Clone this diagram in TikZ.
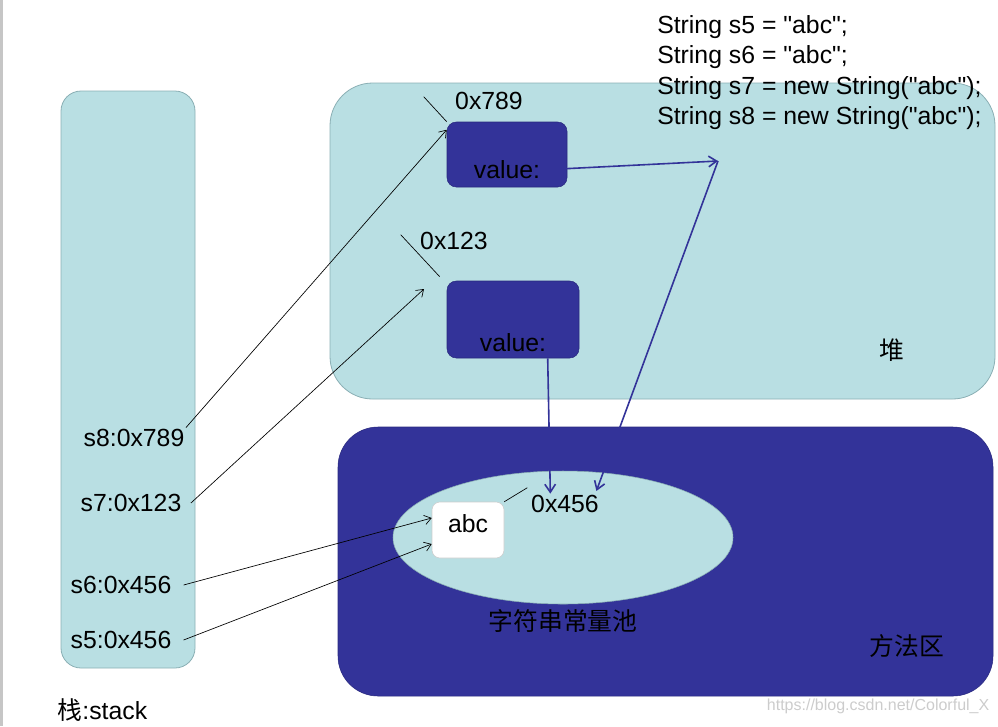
\documentclass[tikz,border=0pt]{standalone}
\usepackage{fontspec}
\setmainfont[Ligatures=TeXOff]{Liberation Sans}
\newfontfamily\cjk{Noto Sans CJK SC}
\RequirePackage{xcolor}
\usetikzlibrary{calc}
\usetikzlibrary{positioning}
\usetikzlibrary{arrows.meta}
\usetikzlibrary{shapes.geometric}

\definecolor{poolcyan}{HTML}{B9DFE3}
\definecolor{pooledge}{HTML}{8AAFB4}
\definecolor{areablue}{HTML}{333399}
\definecolor{boxedge}{HTML}{2A2A7F}

\tikzset{
  every picture/.style={x=0.75pt, y=-0.75pt},
  txt/.style={font=\fontsize{18.6}{22}\selectfont, inner sep=1pt},
  code/.style={txt, inner sep=0pt, text height=16pt, text depth=6.5pt, anchor=west},
  region/.style={draw=pooledge, fill=poolcyan, line width=0.6pt},
  object/.style={draw=boxedge, fill=areablue, rounded corners=7pt, inner sep=0pt},
  ptr/.style={draw=black, line width=0.5pt, -{Straight Barb[length=5pt, width=7pt]}},
  ref/.style={draw=areablue, line width=1.2pt, -{Straight Barb[length=6pt, width=8pt]}},
  tick/.style={draw=black, line width=0.5pt},
}

\begin{document}
\begin{tikzpicture}
  \useasboundingbox (0, 0) rectangle (998, 726);
  \fill [gray!45] (0, 0) rectangle (3, 726);

  % stack, heap, method area
  \draw [region, rounded corners=15pt] (61, 91) rectangle (195, 668);
  \draw [region, rounded corners=32pt] (330, 83) rectangle (995, 399);
  \draw [fill=areablue, draw=boxedge, rounded corners=30pt] (338, 427) rectangle (993, 696);

  \node [txt] (heap) at (892, 350) {\cjk 堆};
  \node [txt] (method) at (907, 646) {\cjk 方法区};
  \node [txt, anchor=west] (stacklbl) at (56, 710) {{\cjk 栈}:stack};

  \node [code] (l5) at (657, 27) {String s5 = "abc";};
  \node [code, below=0pt of l5.south west, anchor=north west] (l6) {String s6 = "abc";};
  \node [code, below=0pt of l6.south west, anchor=north west] (l7) {String s7 = new String("abc");};
  \node [code, below=0pt of l7.south west, anchor=north west] (l8) {String s8 = new String("abc");};

  % heap objects
  \node [object, minimum width=90pt, minimum height=48.75pt] (obj789) at (507, 154.5) {};
  \node [object, minimum width=99pt, minimum height=57.75pt] (obj123) at (513, 319.5) {};
  \node [txt, above=5pt of obj789.south] (v789) {value:};
  \node [txt, above=4pt of obj123.south] (v123) {value:};
  \node [txt] (a789) at (489, 101) {0x789};
  \node [txt] (a123) at (454, 241) {0x123};

  % string pool
  \node [ellipse, draw=pooledge, fill=poolcyan, minimum width=255pt, minimum height=99.75pt, inner sep=0pt] (pool) at (563, 537.5) {};
  \node [txt, below=3pt of pool.south] (poolname) {\cjk 字符串常量池};
  \node [txt, draw=gray!40, fill=white, rounded corners=6pt, minimum width=54pt, minimum height=42pt, text height=10pt, text depth=7pt] (abc) at (468, 530) {abc};
  \node [txt] (a456) at (565, 504) {0x456};

  \node [txt] (s8) at (134, 438) {s8:0x789};
  \node [txt] (s7) at (131, 503) {s7:0x123};
  \node [txt] (s6) at (121, 585) {s6:0x456};
  \node [txt] (s5) at (121, 640) {s5:0x456};

  \draw [tick] (obj789.north west) -- ++(-23, -25);
  \draw [tick] ([shift={(-7, -4)}]obj123.north west) -- ++(-39, -42);
  \draw [tick] (abc.north east) -- ++(23, -14);

  \coordinate (into123) at (424, 289);
  \draw [ptr] (s8.north east) -- ([yshift=-6pt]obj789.north west);
  \draw [ptr] ([xshift=6pt]s7.east) -- (into123);
  \draw [ptr] ([xshift=8pt]s6.east) -- ([yshift=9pt]abc.west);
  \draw [ptr] ([xshift=8pt]s5.east) -- ([yshift=-10.5pt]abc.west);

  \coordinate (turn) at (718, 161);
  \draw [ref] (v789.east) -- (turn);
  \draw [ref] (turn) -- ([xshift=-3pt, yshift=2pt]a456.north east);
  \draw [ref] (obj123.south -| v123.east) -- ([xshift=-11pt]a456.north);

  \node [font=\fontsize{12}{14}\selectfont, text=gray!40, anchor=east] (mark) at (994, 706) {https://blog.csdn.net/Colorful\_X};
\end{tikzpicture}
\end{document}
